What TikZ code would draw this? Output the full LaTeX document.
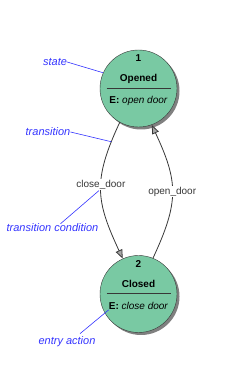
\documentclass[tikz,border=0pt]{standalone}
\usepackage{fontspec}
\setmainfont{Liberation Sans}
\usetikzlibrary{arrows.meta}
\definecolor{statefill}{RGB}{121,201,163}
\definecolor{noteblue}{RGB}{51,51,255}
\definecolor{edgegray}{RGB}{55,55,55}

\begin{document}
\begin{tikzpicture}[x=1pt,y=1pt,
    statecirc/.style={circle,draw=edgegray,fill=statefill,minimum size=77pt,inner sep=0pt},
    shadowcirc/.style={circle,fill=gray,minimum size=77pt,inner sep=0pt},
    txt/.style={inner sep=0pt,font=\fontsize{10}{12}\selectfont},
    note/.style={inner sep=0pt,text=noteblue,font=\fontsize{11}{13}\selectfont\itshape},
    noteline/.style={noteblue,line width=0.6pt},
    trans/.style={edgegray,line width=0.8pt,-{Triangle[length=9pt,width=7pt,fill=gray!70]},looseness=1.2}]
    \useasboundingbox (0,0) rectangle (225,381);
    % States with shadow
    \foreach \nm/\num/\ttl/\act/\yy in {opened/1/Opened/open door/292.5,closed/2/Closed/close door/87} {
        \node[shadowcirc] at (141,\yy-2.5) {};
        \node[statecirc] (\nm) at (138.5,\yy) {};
        \node[txt,font=\fontsize{10}{12}\selectfont\bfseries] (\nm num) at ([yshift=30pt]\nm.center) {\num};
        \node[txt,font=\fontsize{10}{12}\selectfont\bfseries] (\nm title) at ([yshift=10pt]\nm.center) {\ttl};
        \draw[edgegray] ([xshift=-32pt,yshift=0.5pt]\nm.center) -- ([xshift=32pt,yshift=0.5pt]\nm.center);
        \node[txt] (\nm act) at ([yshift=-12pt]\nm.center) {\textbf{E:} \textit{\act}};
    }
    % Transitions
    \draw[trans] (opened.241) to[out=245,in=115] coordinate[pos=0.12] (trpt)
        node[pos=0.45,txt,fill=white,inner sep=1pt] (cdlabel) {close\_door} (closed.114);
    \draw[trans] (closed.68) to[out=65,in=-65]
        node[pos=0.5,txt,fill=white,inner sep=1pt] (odlabel) {open\_door} (opened.290);
    % Notes
    \node[note] (statenote) at (55,319) {state};
    \draw[noteline] (statenote.east) -- (opened.156);
    \node[note] (transnote) at (48,249) {transition};
    \draw[noteline] (transnote.east) -- (trpt);
    \node[note] (condnote) at (52.5,153) {transition condition};
    \draw[noteline] ([xshift=8pt]condnote.north) -- ([xshift=-2pt]cdlabel.south);
    \node[note] (entrynote) at (67,39) {entry action};
    \draw[noteline] ([xshift=13pt,yshift=3pt]entrynote.north) -- (closedact.south west);
\end{tikzpicture}
\end{document}
